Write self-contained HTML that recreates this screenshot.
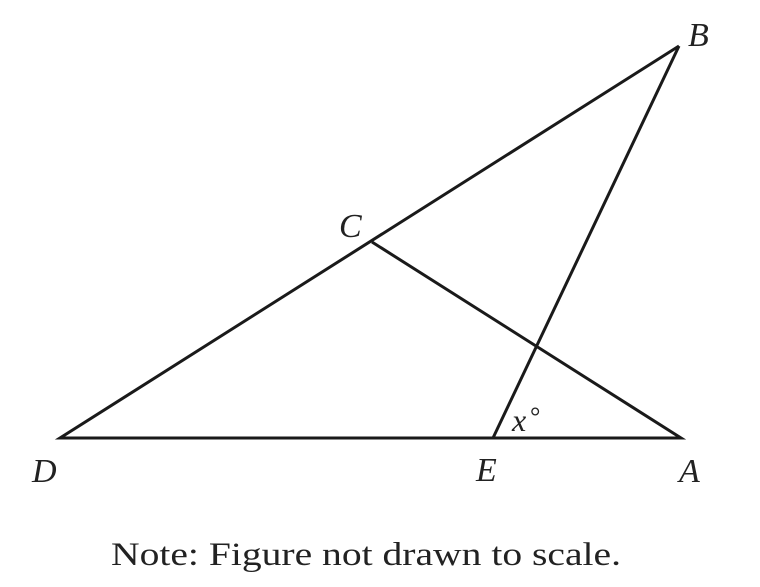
<!DOCTYPE html>
<html><head><meta charset="utf-8"><style>
html,body{margin:0;padding:0;background:#fff;}
svg{display:block;}
</style></head><body>
<svg width="760" height="587" viewBox="0 0 760 587" xmlns="http://www.w3.org/2000/svg">
<g stroke="#1a1a1a" stroke-width="3" fill="none" stroke-linejoin="miter" stroke-linecap="butt">
<polyline points="679,46 60,438 681,438 372,242"/>
<line x1="493" y1="438" x2="679" y2="46"/>
</g>
<g font-family="Liberation Serif, serif" font-style="italic" font-size="34" fill="#222">
<text x="688" y="46">B</text>
<text x="339" y="237">C</text>
<text x="32" y="482">D</text>
<text x="476" y="481">E</text>
<text x="679" y="482">A</text>
<text x="512" y="431" font-size="32">x</text>
<text x="530" y="425" font-size="26" font-style="normal">°</text>
</g>
<text x="111" y="565" font-family="Liberation Serif, serif" font-size="33" fill="#222" textLength="510" lengthAdjust="spacingAndGlyphs">Note: Figure not drawn to scale.</text>
</svg>
</body></html>
